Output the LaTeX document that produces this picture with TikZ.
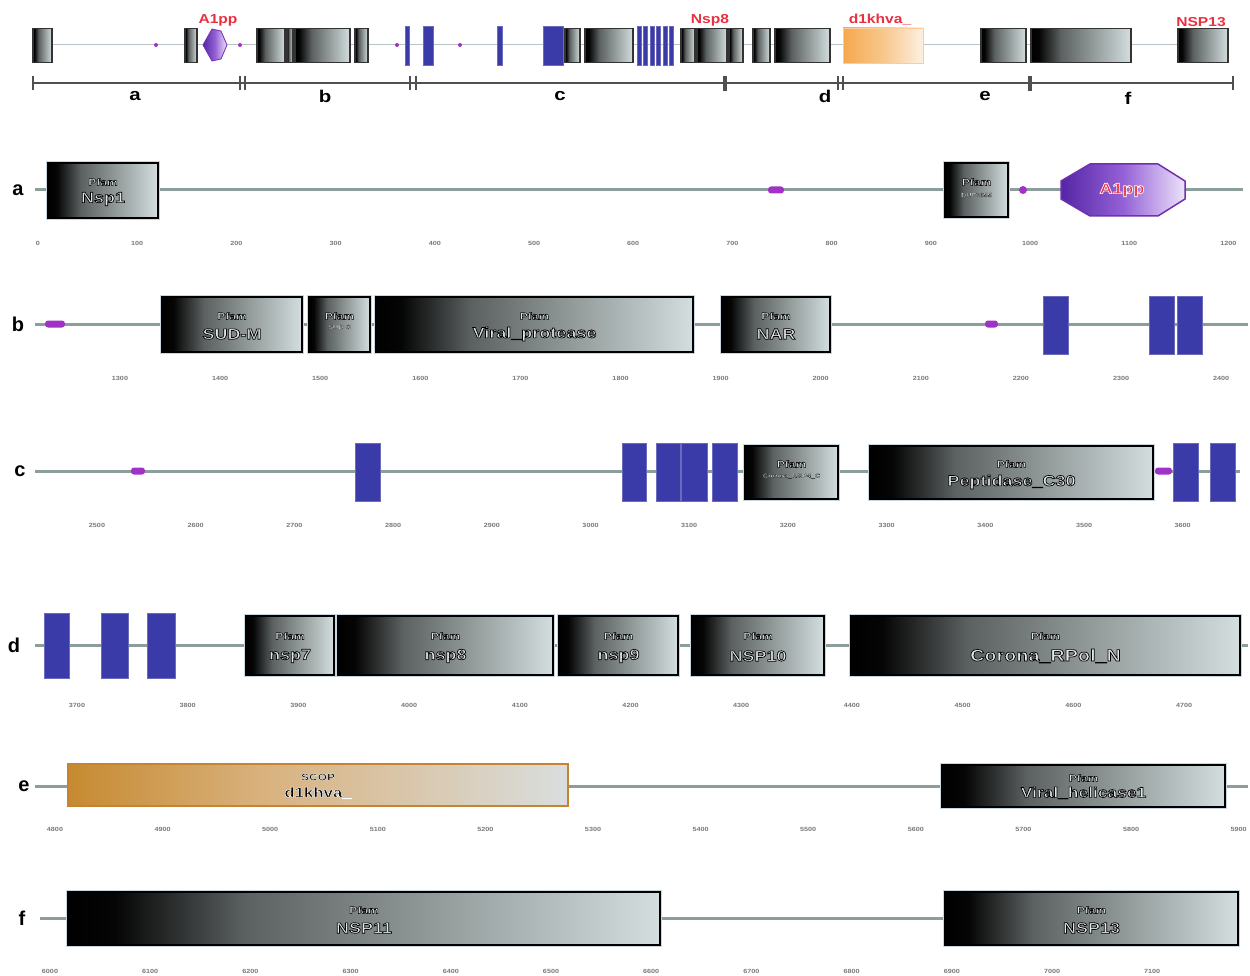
\documentclass[tikz,border=0pt]{standalone}
\usepackage{fontspec}
\setmainfont{Liberation Sans}
\newfontfamily\stfont[FakeStretch=1.2]{Liberation Sans}
\definecolor{bbgray}{RGB}{140,158,155}
\definecolor{ovgray}{RGB}{185,196,200}
\definecolor{barblue}{RGB}{58,58,168}
\definecolor{pillpurple}{RGB}{160,50,200}
\definecolor{hexdraw}{RGB}{112,48,176}
\definecolor{txtgray}{RGB}{226,230,230}
\definecolor{boxrim}{RGB}{200,214,226}
\definecolor{labred}{RGB}{232,48,64}
\definecolor{ticktxt}{RGB}{120,120,120}
\definecolor{scaledark}{RGB}{80,80,80}
\definecolor{orangedraw}{RGB}{196,132,50}
\pgfdeclarehorizontalshading{boxsh}{100bp}{rgb(0bp)=(0,0,0); rgb(25bp)=(0,0,0); rgb(29bp)=(0.02,0.02,0.02); rgb(40bp)=(0.36,0.38,0.38); rgb(55bp)=(0.56,0.59,0.59); rgb(75bp)=(0.83,0.87,0.87); rgb(100bp)=(0.83,0.87,0.87)}
\pgfdeclarehorizontalshading{orsh}{100bp}{rgb(0bp)=(0.78,0.54,0.19); rgb(25bp)=(0.78,0.54,0.19); rgb(45bp)=(0.85,0.70,0.50); rgb(75bp)=(0.85,0.87,0.87); rgb(100bp)=(0.85,0.87,0.87)}
\pgfdeclarehorizontalshading{minior}{100bp}{rgb(0bp)=(0.96,0.66,0.30); rgb(25bp)=(0.96,0.66,0.30); rgb(50bp)=(0.97,0.78,0.55); rgb(75bp)=(0.99,0.94,0.88); rgb(100bp)=(0.99,0.94,0.88)}
\pgfdeclarehorizontalshading{hexsh}{100bp}{rgb(0bp)=(0.33,0.15,0.65); rgb(25bp)=(0.33,0.15,0.65); rgb(50bp)=(0.58,0.38,0.84); rgb(75bp)=(0.93,0.89,0.98); rgb(100bp)=(0.93,0.89,0.98)}
% outlined text: #1 fill colour, #2 stroke rgb, #3 stroke width, #4 text
\newcommand{\olt}[4]{{\color{#1}\special{pdf:literal direct q 2 Tr #2 RG #3 w}#4\special{pdf:literal direct Q}}}
\newcommand{\dk}[2]{\olt{txtgray}{0 0 0}{#1}{#2}}
\tikzset{
  bbline/.style={line width=3pt, draw=bbgray},
  ovline/.style={line width=1pt, draw=ovgray},
  pbox/.style={rectangle, shade, shading=boxsh, draw=black, line width=2.2pt,
    preaction={draw=boxrim, line width=4.6pt}, inner sep=0pt},
  minibox/.style={rectangle, shade, shading=boxsh, draw=black!80, line width=1.2pt, inner sep=0pt, minimum height=34},
  bluebar/.style={rectangle, fill=barblue, draw=barblue!75!white, line width=0.8pt, inner sep=0pt},
  pill/.style={rectangle, rounded corners=3pt, fill=pillpurple, inner sep=0pt, minimum height=7},
  dot/.style={circle, fill=pillpurple, inner sep=0pt, minimum size=#1},
  pft/.style={inner sep=0pt, font=\stfont\bfseries\fontsize{10}{12}\selectfont},
  nmt/.style={inner sep=0pt, font=\stfont\bfseries\fontsize{#1}{#1}\selectfont},
  tnt/.style={inner sep=0pt, font=\stfont\bfseries\fontsize{6}{7}\selectfont},
  tick/.style={font=\stfont\bfseries\fontsize{6}{7}\selectfont, text=ticktxt, inner sep=0pt},
  rowlab/.style={font=\fontsize{20}{22}\selectfont\bfseries, inner sep=0pt},
  seglab/.style={font=\stfont\fontsize{17}{19}\selectfont\bfseries, inner sep=0pt},
  redlab/.style={font=\stfont\fontsize{13}{14}\selectfont\bfseries, text=labred, inner sep=0pt},
  scaleln/.style={line width=2.4pt, draw=scaledark},
  sbar/.style={line width=2.4pt, draw=scaledark},
}
\begin{document}
\begin{tikzpicture}[x=1pt,y=-1pt]
\useasboundingbox (0,0) rectangle (1250,976);
% ---------------- overview ----------------
\coordinate (oL) at (35,45); \coordinate (oR) at (1225,45);
\draw[ovline] (oL) -- (oR);
\foreach \p [count=\i] in {156,240,397,460}
  \node[dot=4pt] (od\i) at (\p,45) {};
\foreach \a/\b [count=\i] in {33/52,185/197,257/285,287/293,295/350,355/368,565/580,585/633,681/695,697/727,729/743,753/770,775/830,981/1026,1031/1131,1178/1228}
  \node[minibox, minimum width={\b-\a}] (ov\i) at ({(\a+\b)/2},45.5) {};
\foreach \a/\b [count=\i] in {405/409,423/433,497/502,543/563,637/641,643/647,650/654,656/660,663/667,669/673}
  \node[bluebar, minimum width={\b-\a}, minimum height=39] (ob\i) at ({(\a+\b)/2},46) {};
\shade[shading=hexsh, draw=hexdraw, line width=0.8pt] (203,45) -- (212,29) -- (221,31) -- (227,45) -- (221,59) -- (212,61) -- cycle;
\node[inner sep=0pt] (ohex) at (215,45) {};
\node[rectangle, shade, shading=minior, draw=orange!40, line width=0.6pt, minimum width=80, minimum height=35, inner sep=0pt] (oor) at (883,45.5) {};
\node[redlab] (lA1pp) at (218,20) {A1pp};
\node[redlab] (lNsp8) at (710,20) {Nsp8};
\node[redlab] (ld1k) at (880,20) {d1khva\_};
\node[redlab] (lNSP13) at (1201,22) {NSP13};
% scale line
\coordinate (sL) at (33,83); \coordinate (sR) at (1233,83);
\draw[scaleln] (sL) -- (sR);
\foreach \p [count=\i] in {33,240,245,410,416,838,843,1233}
  \draw[sbar] (\p,76) -- (\p,90);
\draw[line width=4.5pt, draw=scaledark] (725,76) -- (725,91);
\draw[line width=4.5pt, draw=scaledark] (1030,76) -- (1030,91);
\node[seglab] (sa) at (135,96) {a};
\node[seglab] (sb) at (325,96) {b};
\node[seglab] (sc) at (560,96) {c};
\node[seglab] (sd) at (825,96) {d};
\node[seglab] (se) at (985,96) {e};
\node[seglab] (sf) at (1128,98) {f};
% ---------------- row a ----------------
\node[rowlab] (la) at (18,190) {a};
\coordinate (aL) at (35,190); \coordinate (aR) at (1243,190);
\draw[bbline] (aL) -- (aR);
\node[pbox, minimum width=110, minimum height=55] (nsp1) at (103,190.5) {};
\node[pft] (nsp1p) at (103,182) {\dk{0.5}{Pfam}};
\node[nmt=15] (nsp1n) at (103,199) {\dk{0.7}{Nsp1}};
\node[pill, minimum width=16] (pa1) at (776,190) {};
\node[pbox, minimum width=63, minimum height=54] (duf) at (976.5,190) {};
\node[pft] (dufp) at (976.5,182) {\dk{0.5}{Pfam}};
\node[tnt] (dufn) at (976.5,195) {\dk{0.12}{DUF3655}};
\node[dot=8pt] (pa2) at (1023,190) {};
\shade[shading=hexsh, draw=hexdraw, line width=1.5pt] (1061,181) -- (1090,164) -- (1158,164) -- (1185,181) -- (1185,199) -- (1158,216) -- (1090,216) -- (1061,199) -- cycle;
\node[nmt=15] (a1pp) at (1122,190) {\olt{labred}{1 1 1}{0.7}{A1pp}};
\foreach \i [evaluate=\i as \v using {int(100*\i)}] in {0,...,12}
  \node[tick] (ta\i) at ({38+99.2*\i},243) {\v};
% ---------------- row b ----------------
\node[rowlab] (lb) at (18,324) {b};
\coordinate (bL) at (35,324); \coordinate (bR) at (1248,324);
\draw[bbline] (bL) -- (bR);
\node[pill, minimum width=20] (pb1) at (55,324) {};
\node[pbox, minimum width=140, minimum height=55] (sudm) at (232,324.5) {};
\node[pft] (sudmp) at (232,316) {\dk{0.5}{Pfam}};
\node[nmt=15] (sudmn) at (232,334) {\dk{0.7}{SUD-M}};
\node[pbox, minimum width=61, minimum height=55] (sudc) at (339.5,324.5) {};
\node[pft] (sudcp) at (339.5,316) {\dk{0.5}{Pfam}};
\node[tnt] (sudcn) at (339.5,327) {\dk{0.12}{SUD-C}};
\node[pbox, minimum width=317, minimum height=55] (vprot) at (534.5,324.5) {};
\node[pft] (vprotp) at (534.5,316) {\dk{0.5}{Pfam}};
\node[nmt=15] (vprotn) at (534.5,334) {\dk{0.7}{Viral\_protease}};
\node[pbox, minimum width=108, minimum height=55] (nar) at (776,324.5) {};
\node[pft] (narp) at (776,316) {\dk{0.5}{Pfam}};
\node[nmt=15] (narn) at (776,334) {\dk{0.7}{NAR}};
\node[pill, minimum width=13] (pb2) at (991.5,324) {};
\foreach \a/\b [count=\i] in {1043/1068,1149/1174,1177/1202}
  \node[bluebar, minimum width={\b-\a}, minimum height=58] (bb\i) at ({(\a+\b)/2},325) {};
\foreach \i [evaluate=\i as \v using {int(1300+100*\i)}] in {0,...,11}
  \node[tick] (tb\i) at ({120+100.1*\i},378) {\v};
% ---------------- row c ----------------
\node[rowlab] (lc) at (20,471) {c};
\coordinate (cL) at (35,471); \coordinate (cR) at (1240,471);
\draw[bbline] (cL) -- (cR);
\node[pill, minimum width=14] (pc1) at (138,471) {};
\foreach \a/\b [count=\i] in {355/380,622/646,656/680,681/707,712/737,1173/1198,1210/1235}
  \node[bluebar, minimum width={\b-\a}, minimum height=58] (cb\i) at ({(\a+\b)/2},472) {};
\node[pbox, minimum width=93, minimum height=53] (nsp4c) at (791.5,472.5) {};
\node[pft] (nsp4cp) at (791.5,464) {\dk{0.5}{Pfam}};
\node[tnt] (nsp4cn) at (791.5,476) {\dk{0.12}{Corona\_NSP4\_C}};
\node[pbox, minimum width=283, minimum height=53] (pepc30) at (1011.5,472.5) {};
\node[pft] (pepc30p) at (1011.5,464) {\dk{0.5}{Pfam}};
\node[nmt=15] (pepc30n) at (1011.5,482) {\dk{0.7}{Peptidase\_C30}};
\node[pill, minimum width=17] (pc2) at (1163.5,471) {};
\foreach \i [evaluate=\i as \v using {int(2500+100*\i)}] in {0,...,11}
  \node[tick] (tc\i) at ({97+98.7*\i},525) {\v};
% ---------------- row d ----------------
\node[rowlab] (ld) at (14,645) {d};
\coordinate (dL) at (35,645); \coordinate (dR) at (1248,645);
\draw[bbline] (dL) -- (dR);
\foreach \a/\b [count=\i] in {44/69,101/128,147/175}
  \node[bluebar, minimum width={\b-\a}, minimum height=65] (db\i) at ({(\a+\b)/2},645.5) {};
\node[pbox, minimum width=88, minimum height=59] (nsp7) at (290,645.5) {};
\node[pft] (nsp7p) at (290,636) {\dk{0.5}{Pfam}};
\node[nmt=15] (nsp7n) at (290,656) {\dk{0.7}{nsp7}};
\node[pbox, minimum width=215, minimum height=59] (nsp8) at (445.5,645.5) {};
\node[pft] (nsp8p) at (445.5,636) {\dk{0.5}{Pfam}};
\node[nmt=15] (nsp8n) at (445.5,656) {\dk{0.7}{nsp8}};
\node[pbox, minimum width=119, minimum height=59] (nsp9) at (618.5,645.5) {};
\node[pft] (nsp9p) at (618.5,636) {\dk{0.5}{Pfam}};
\node[nmt=15] (nsp9n) at (618.5,656) {\dk{0.7}{nsp9}};
\node[pbox, minimum width=132, minimum height=59] (nsp10) at (758,645.5) {};
\node[pft] (nsp10p) at (758,636) {\dk{0.5}{Pfam}};
\node[nmt=15] (nsp10n) at (758,656) {\dk{0.7}{NSP10}};
\node[pbox, minimum width=389, minimum height=59] (rpol) at (1045.5,645.5) {};
\node[pft] (rpolp) at (1045.5,636) {\dk{0.5}{Pfam}};
\node[nmt=16.5] (rpoln) at (1045.5,656) {\dk{0.7}{Corona\_RPol\_N}};
\foreach \i [evaluate=\i as \v using {int(3700+100*\i)}] in {0,...,10}
  \node[tick] (td\i) at ({77+110.7*\i},705) {\v};
% ---------------- row e ----------------
\node[rowlab] (le) at (24,786) {e};
\coordinate (eL) at (35,786); \coordinate (eR) at (1248,786);
\draw[bbline] (eL) -- (eR);
\node[rectangle, shade, shading=orsh, draw=orangedraw, line width=2pt, minimum width=500, minimum height=42, inner sep=0pt] (d1khva) at (318,785) {};
\node[pft] (d1khvap) at (318,777) {\olt{black}{1 1 1}{0.4}{SCOP}};
\node[nmt=14] (d1khvan) at (318,793) {\olt{black}{1 1 1}{0.5}{d1khva\_}};
\node[pbox, minimum width=283, minimum height=42] (vhel) at (1083.5,786) {};
\node[pft] (vhelp) at (1083.5,778) {\dk{0.5}{Pfam}};
\node[nmt=14.5] (vheln) at (1083.5,793) {\dk{0.7}{Viral\_helicase1}};
\foreach \i [evaluate=\i as \v using {int(4800+100*\i)}] in {0,...,11}
  \node[tick] (te\i) at ({55+107.6*\i},829) {\v};
% ---------------- row f ----------------
\node[rowlab] (lf) at (22,918) {f};
\coordinate (fL) at (40,918); \coordinate (fR) at (1240,918);
\draw[bbline] (fL) -- (fR);
\node[pbox, minimum width=592, minimum height=53] (nsp11) at (364,918.5) {};
\node[pft] (nsp11p) at (364,910) {\dk{0.5}{Pfam}};
\node[nmt=15] (nsp11n) at (364,928) {\dk{0.7}{NSP11}};
\node[pbox, minimum width=293, minimum height=53] (nsp13) at (1091.5,918.5) {};
\node[pft] (nsp13p) at (1091.5,910) {\dk{0.5}{Pfam}};
\node[nmt=15] (nsp13n) at (1091.5,928) {\dk{0.7}{NSP13}};
\foreach \i [evaluate=\i as \v using {int(6000+100*\i)}] in {0,...,11}
  \node[tick] (tf\i) at ({50+100.2*\i},971) {\v};
\end{tikzpicture}
\end{document}
